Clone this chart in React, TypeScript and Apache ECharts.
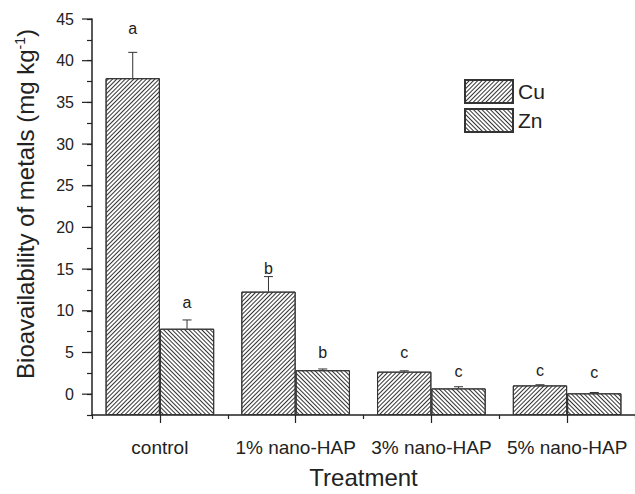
import React, { useEffect, useRef } from 'react';
import * as echarts from 'echarts';

const categories = ['control', '1% nano-HAP', '3% nano-HAP', '5% nano-HAP'];
const cuValues = [37.9, 12.3, 2.7, 1.05];
const cuErrors = [3.1, 1.8, 0.1, 0.08];
const znValues = [7.85, 2.87, 0.69, 0.1];
const znErrors = [1.05, 0.15, 0.2, 0.1];
const cuLetters = ['a', 'b', 'c', 'c'];
const znLetters = ['a', 'b', 'c', 'c'];
const cuLetterAt = [43.9, 15.1, 5.0, 2.8];
const znLetterAt = [11.0, 5.0, 2.7, 2.6];
const yMajorTicks = [0, 5, 10, 15, 20, 25, 30, 35, 40, 45];
const yMin = -2.5;
const yMax = 45;

const FONT = '"Liberation Sans", Arial, Helvetica, sans-serif';
const INK = '#222';

function errorSeries(name: string, values: number[], errors: number[], letters: string[], letterAt: number[], side: number) {
  return {
    type: 'custom',
    name: name + ' error',
    silent: true,
    clip: false,
    z: 5,
    data: values.map((v, i) => [i, v, errors[i], letterAt[i]]),
    encode: { x: 0, y: 1 },
    renderItem: (params: any, api: any) => {
      const i = api.value(0);
      const v = api.value(1);
      const e = api.value(2);
      const la = api.value(3);
      const band = api.size([1, 0])[0];
      const off = (side * band * 0.8) / 4;
      const base = api.coord([i, v]);
      const top = api.coord([i, v + e]);
      const lp = api.coord([i, la]);
      const x = base[0] + off;
      return {
        type: 'group',
        children: [
          { type: 'line', shape: { x1: x, y1: base[1], x2: x, y2: top[1] }, style: { stroke: '#333', lineWidth: 1 } },
          { type: 'line', shape: { x1: x - 4.5, y1: top[1], x2: x + 4.5, y2: top[1] }, style: { stroke: '#333', lineWidth: 1 } },
          {
            type: 'text',
            x: x,
            y: lp[1],
            style: {
              text: letters[params.dataIndex],
              fill: INK,
              fontSize: 16,
              fontFamily: FONT,
              align: 'center',
              verticalAlign: 'middle',
            },
          },
        ],
      };
    },
  };
}

export default function App() {
  const ref = useRef<HTMLDivElement>(null);
  useEffect(() => {
    if (!ref.current) return;
    const chart = echarts.init(ref.current, undefined, { renderer: 'svg' });
    const option: any = {
      animation: false,
      backgroundColor: '#fff',
      grid: { left: 92, right: -1, top: 19, bottom: 77, containLabel: false },
      legend: {
        data: ['Cu', 'Zn'],
        orient: 'vertical',
        left: 464,
        top: 79,
        padding: 0,
        itemWidth: 48,
        itemHeight: 23,
        itemGap: 4,
        icon: 'rect',
        textStyle: { fontSize: 21, lineHeight: 23, color: INK, fontFamily: FONT },
      },
      xAxis: [
        {
          type: 'category',
          data: categories,
          axisLine: { show: true, onZero: false, lineStyle: { color: INK, width: 1.5 } },
          axisTick: { show: true, length: 4, interval: 0, lineStyle: { color: INK, width: 1.2 } },
          axisLabel: { show: true, interval: 0, margin: 23, fontSize: 19, color: INK, fontFamily: FONT },
          name: 'Treatment',
          nameLocation: 'middle',
          nameGap: 50,
          nameTextStyle: { fontSize: 24, color: INK, fontFamily: FONT },
        },
        {
          type: 'category',
          data: categories,
          position: 'bottom',
          axisLine: { show: false, onZero: false },
          axisTick: { show: true, length: 8, alignWithLabel: true, interval: 0, lineStyle: { color: INK, width: 1.2 } },
          axisLabel: { show: false },
        },
      ],
      yAxis: {
        type: 'value',
        min: yMin,
        max: yMax,
        interval: 2.5,
        startValue: yMin,
        splitLine: { show: false },
        axisLine: { show: true, lineStyle: { color: INK, width: 1.5 } },
        axisTick: { show: true, length: 5, lineStyle: { color: INK, width: 1.2 } },
        axisLabel: {
          margin: 18,
          fontSize: 16,
          color: INK,
          fontFamily: FONT,
          formatter: (v: number) => (yMajorTicks.indexOf(v) >= 0 ? String(v) : ''),
        },
      },
      graphic: [
        {
          type: 'text',
          x: 25,
          y: 204,
          rotation: Math.PI / 2,
          style: {
            text: 'Bioavailability of metals (mg kg{sup|-1})',
            fill: INK,
            fontSize: 24,
            fontFamily: FONT,
            align: 'center',
            verticalAlign: 'middle',
            rich: {
              sup: { fontSize: 14, fontFamily: FONT, fill: INK, verticalAlign: 'top', padding: [0, 0, 10, 0] },
            },
          },
        },
      ],
      series: [
        {
          type: 'bar',
          name: 'Cu',
          data: cuValues,
          barGap: '0%',
          barCategoryGap: '20%',
          itemStyle: {
            color: '#fff',
            borderColor: '#333',
            borderWidth: 1,
            decal: { symbol: 'rect', symbolSize: 1, dashArrayX: [1, 0], dashArrayY: [1, 1.5], rotation: -Math.PI / 4, color: '#333' },
          },
        },
        {
          type: 'bar',
          name: 'Zn',
          data: znValues,
          barGap: '0%',
          barCategoryGap: '20%',
          itemStyle: {
            color: '#fff',
            borderColor: '#333',
            borderWidth: 1,
            decal: { symbol: 'rect', symbolSize: 1, dashArrayX: [1, 0], dashArrayY: [1, 2], rotation: Math.PI / 4, color: '#333' },
          },
        },
        errorSeries('Cu', cuValues, cuErrors, cuLetters, cuLetterAt, -1),
        errorSeries('Zn', znValues, znErrors, znLetters, znLetterAt, 1),
        {
          type: 'custom',
          name: 'major ticks',
          silent: true,
          clip: false,
          data: yMajorTicks.map((v) => [0, v]),
          encode: { x: 0, y: 1 },
          renderItem: (params: any, api: any) => {
            const p = api.coord([0, api.value(1)]);
            const x0 = params.coordSys.x;
            return { type: 'line', shape: { x1: x0 - 10, y1: p[1], x2: x0, y2: p[1] }, style: { stroke: INK, lineWidth: 1.2 } };
          },
        },
      ],
    };
    chart.setOption(option);
    return () => chart.dispose();
  }, []);
  return <div ref={ref} style={{ position: 'fixed', left: 0, top: 0, width: 635, height: 494 }} />;
}
